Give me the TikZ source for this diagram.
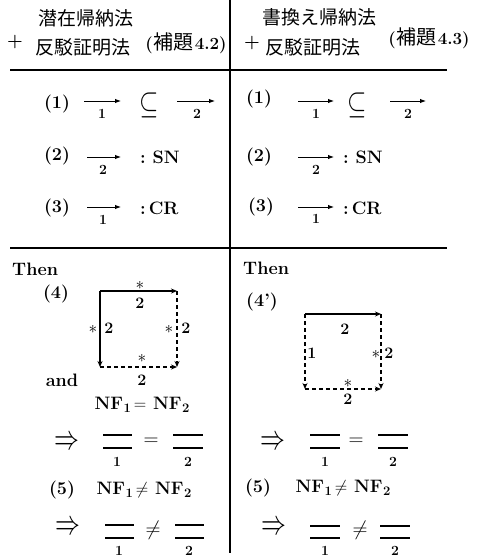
\documentclass[tikz,border=0pt]{standalone}
\usepackage{fontspec}
\usepackage{graphicx}
\usetikzlibrary{arrows.meta}
\newfontfamily\cjk{Noto Sans CJK JP}
% normal form with a lowered bold index
\newcommand\nfidx[1]{NF\kern0.5pt\raisebox{-3pt}{\fontsize{13}{13}\selectfont\bfseries #1}}
% lemma reference: Japanese word in the CJK face, number in bold serif
\newcommand\lemref[1]{(\kern1pt{\cjk\mdseries\fontsize{20}{20}\selectfont 補題}\kern1pt#1)}

\begin{document}
\begin{tikzpicture}[x=1pt,y=-1pt,
  lbl/.style={font=\bfseries\fontsize{18}{20}\selectfont, inner sep=0pt},
  jp/.style={font=\cjk\fontsize{19}{22}\selectfont, inner sep=0pt},
  cite/.style={font=\bfseries\fontsize{17}{18}\selectfont, inner sep=0pt},
  sub/.style={font=\bfseries\fontsize{14}{14}\selectfont, inner sep=0pt},
  sq/.style={font=\bfseries\fontsize{16}{16}\selectfont, inner sep=0pt},
  star/.style={font=\fontsize{19}{19}\selectfont, inner sep=0pt},
  imp/.style={font=\fontsize{31}{31}\selectfont, inner sep=0pt},
  rop/.style={font=\fontsize{22}{22}\selectfont, inner sep=0pt},
  rel/.style={line width=0.9pt, -{Latex[length=6pt,width=4.5pt]}},
  sqsolid/.style={line width=1.1pt, -{Stealth[length=6pt,width=5pt]}},
  sqdash/.style={line width=1.1pt, dash pattern=on 4pt off 3pt, -{Stealth[length=6pt,width=5pt]}},
  rule/.style={line width=1.5pt},
  bar/.style={line width=1.3pt},
]
\useasboundingbox (0,0) rectangle (485,558);

% table rules
\coordinate (vtop) at (230,0);
\coordinate (vbot) at (230,553);
\coordinate (h1l) at (10,70);
\coordinate (h1r) at (447,70);
\coordinate (h2l) at (10,248);
\coordinate (h2r) at (447,248);
\draw[rule] (vtop) -- (vbot);
\draw[rule] (h1l) -- (h1r);
\draw[rule] (h2l) -- (h2r);

% column headings
\node[jp] (lhead1) at (86,18) {潜在帰納法};
\node[lbl] (lplus) at (15,42) {+};
\node[jp] (lhead2) at (83,47) {反駁証明法};
\node[cite] (lcite) at (186,43) {\lemref{4.2}};
\node[jp] (rhead1) at (319,17) {書換え帰納法};
\node[lbl] (rplus) at (252,43) {+};
\node[jp] (rhead2) at (313,47) {反駁証明法};
\node[cite] (rcite) at (429,38) {\lemref{4.3}};

% ---- left column, conditions (1)-(3)
\node[lbl] (ln1) at (57,104) {(1)};
\coordinate (la1s) at (84,101); \coordinate (la1e) at (121,101);
\draw[rel] (la1s) -- (la1e);
\node[sub] (la1l) at (102,114) {1};
\node[lbl] (lsub) at (149,105) {\fontsize{25}{25}\selectfont\scalebox{1}[1.3]{$\subseteq$}};
\coordinate (la2s) at (177,101); \coordinate (la2e) at (215,101);
\draw[rel] (la2s) -- (la2e);
\node[sub] (la2l) at (197,114) {2};

\node[lbl] (ln2) at (57,156) {(2)};
\coordinate (la3s) at (87,157); \coordinate (la3e) at (121,157);
\draw[rel] (la3s) -- (la3e);
\node[sub] (la3l) at (103,170) {2};
\node[lbl,anchor=west] (lsn) at (140,157) {:~SN};

\node[lbl] (ln3) at (57,208) {(3)};
\coordinate (la4s) at (87,207); \coordinate (la4e) at (121,207);
\draw[rel] (la4s) -- (la4e);
\node[sub] (la4l) at (103,220) {1};
\node[lbl,anchor=west] (lcr) at (140,208) {:\,CR};

% ---- right column, conditions (1)-(3)
\node[lbl] (rn1) at (259,99) {(1)};
\coordinate (ra1s) at (298,101); \coordinate (ra1e) at (334,101);
\draw[rel] (ra1s) -- (ra1e);
\node[sub] (ra1l) at (316,114) {1};
\node[lbl] (rsub) at (357,105) {\fontsize{25}{25}\selectfont\scalebox{1}[1.3]{$\subseteq$}};
\coordinate (ra2s) at (390,101); \coordinate (ra2e) at (426,101);
\draw[rel] (ra2s) -- (ra2e);
\node[sub] (ra2l) at (408,114) {2};

\node[lbl] (rn2) at (259,157) {(2)};
\coordinate (ra3s) at (298,157); \coordinate (ra3e) at (334,157);
\draw[rel] (ra3s) -- (ra3e);
\node[sub] (ra3l) at (316,170) {2};
\node[lbl,anchor=west] (rsn) at (343,157) {:~SN};

\node[lbl] (rn3) at (261,207) {(3)};
\coordinate (ra4s) at (298,207); \coordinate (ra4e) at (334,207);
\draw[rel] (ra4s) -- (ra4e);
\node[sub] (ra4l) at (316,219) {1};
\node[lbl,anchor=west] (rcr) at (343,208) {:\,CR};

% ---- left column, conclusions
\node[lbl,anchor=west] (lthen) at (12,269) {Then};
\node[lbl] (ln4) at (56,294) {(4)};
\coordinate (lA) at (100,291); \coordinate (lB) at (177,291);
\coordinate (lC) at (100,367); \coordinate (lD) at (177,367);
\draw[sqsolid] (lA) -- (lB);
\draw[sqsolid] (lA) -- (lC);
\draw[sqdash] (lB) -- (lD);
\draw[sqdash] (lC) -- (lD);
\node[star] (lts) at (140,285) {$\ast$};
\node[sq] (ltn) at (140,303) {2};
\node[star] (lls) at (93,329) {$\ast$};
\node[sq] (lln) at (109,328) {2};
\node[star] (lrs) at (169,329) {$\ast$};
\node[sq] (lrn) at (186,328) {2};
\node[star] (lbs) at (142,358) {$\ast$};
\node[sq] (lbn) at (142,380) {2};
\node[lbl] (land) at (62,380) {and};
\node[lbl] (lnfeq) at (142,405) {\nfidx{1}\,$=$\ \nfidx{2}};

\node[imp] (limp1) at (67,443) {\scalebox{1}[1.4]{$\Rightarrow$}};
\coordinate (lb1a) at (103,435); \coordinate (lb1b) at (132,435);
\coordinate (lb1c) at (103,448); \coordinate (lb1d) at (132,448);
\draw[bar] (lb1a) -- (lb1b); \draw[bar] (lb1c) -- (lb1d);
\node[sub] (lb1l) at (117,462) {1};
\node[rop] (leqs) at (151,442) {$=$};
\coordinate (lb2a) at (173,435); \coordinate (lb2b) at (203,435);
\coordinate (lb2c) at (173,448); \coordinate (lb2d) at (203,448);
\draw[bar] (lb2a) -- (lb2b); \draw[bar] (lb2c) -- (lb2d);
\node[sub] (lb2l) at (188,462) {2};

\node[lbl] (ln5) at (62,490) {(5)};
\node[lbl] (lnfne) at (144,490) {\nfidx{1}\,$\neq$\ \nfidx{2}};
\node[imp] (limp2) at (68,528) {\scalebox{1}[1.4]{$\Rightarrow$}};
\coordinate (lb3a) at (105,525); \coordinate (lb3b) at (134,525);
\coordinate (lb3c) at (105,538); \coordinate (lb3d) at (134,538);
\draw[bar] (lb3a) -- (lb3b); \draw[bar] (lb3c) -- (lb3d);
\node[sub] (lb3l) at (119,551) {1};
\node[rop] (lnes) at (153,530) {$\neq$};
\coordinate (lb4a) at (175,525); \coordinate (lb4b) at (204,525);
\coordinate (lb4c) at (175,538); \coordinate (lb4d) at (204,538);
\draw[bar] (lb4a) -- (lb4b); \draw[bar] (lb4c) -- (lb4d);
\node[sub] (lb4l) at (189,551) {2};

% ---- right column, conclusions
\node[lbl,anchor=west] (rthen) at (243,268) {Then};
\node[lbl] (rn4) at (262,302) {(4')};
\coordinate (rA) at (305,314); \coordinate (rB) at (381,314);
\coordinate (rC) at (305,389); \coordinate (rD) at (381,389);
\draw[sqsolid] (rA) -- (rB);
\draw[sqdash] (rA) -- (rC);
\draw[sqdash] (rB) -- (rD);
\draw[sqdash] (rC) -- (rD);
\node[sq] (rtn) at (345,329) {2};
\node[sq] (rln) at (312,353) {1};
\node[star] (rrs) at (376,354) {$\ast$};
\node[sq] (rrn) at (389,353) {2};
\node[star] (rbs) at (348,383) {$\ast$};
\node[sq] (rbn) at (348,399) {2};

\node[imp] (rimp1) at (273,443) {\scalebox{1}[1.4]{$\Rightarrow$}};
\coordinate (rb1a) at (310,435); \coordinate (rb1b) at (340,435);
\coordinate (rb1c) at (310,448); \coordinate (rb1d) at (340,448);
\draw[bar] (rb1a) -- (rb1b); \draw[bar] (rb1c) -- (rb1d);
\node[sub] (rb1l) at (325,462) {1};
\node[rop] (reqs) at (356,442) {$=$};
\coordinate (rb2a) at (378,435); \coordinate (rb2b) at (408,435);
\coordinate (rb2c) at (378,448); \coordinate (rb2d) at (408,448);
\draw[bar] (rb2a) -- (rb2b); \draw[bar] (rb2c) -- (rb2d);
\node[sub] (rb2l) at (393,462) {2};

\node[lbl] (rn5) at (258,488) {(5)};
\node[lbl] (rnfne) at (343,488) {\nfidx{1}\,$\neq$\ \nfidx{2}};
\node[imp] (rimp2) at (274,528) {\scalebox{1}[1.4]{$\Rightarrow$}};
\coordinate (rb3a) at (310,526); \coordinate (rb3b) at (340,526);
\coordinate (rb3c) at (310,538); \coordinate (rb3d) at (340,538);
\draw[bar] (rb3a) -- (rb3b); \draw[bar] (rb3c) -- (rb3d);
\node[sub] (rb3l) at (325,551) {1};
\node[rop] (rnes) at (360,530) {$\neq$};
\coordinate (rb4a) at (380,526); \coordinate (rb4b) at (410,526);
\coordinate (rb4c) at (380,538); \coordinate (rb4d) at (410,538);
\draw[bar] (rb4a) -- (rb4b); \draw[bar] (rb4c) -- (rb4d);
\node[sub] (rb4l) at (395,551) {2};
\end{tikzpicture}
\end{document}
